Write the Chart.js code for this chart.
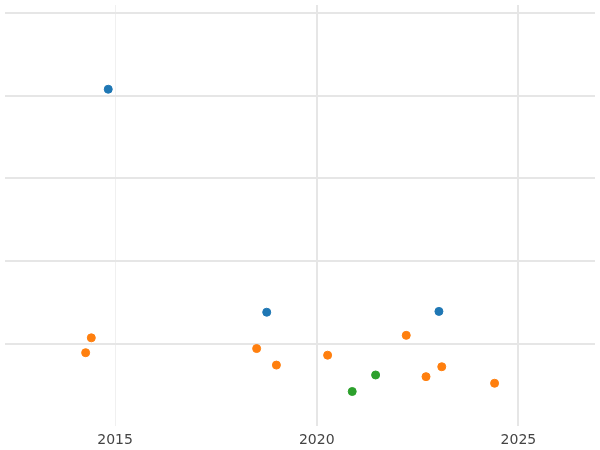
<!DOCTYPE html>
<html><head><meta charset="utf-8">
<script src="https://cdn.jsdelivr.net/npm/chart.js@4"></script>
<style>html,body{margin:0;padding:0;background:#fff}#w{width:600px;height:450px}</style>
</head><body><div id="w"><canvas id="c"></canvas></div>
<script>
const blueX=[2014.83,2018.76,2023.03];
const blueY=[4.08,1.38,1.39];
const orangeX=[2014.27,2014.41,2018.51,2019.0,2020.27,2022.22,2022.71,2023.1,2024.41];
const orangeY=[0.89,1.07,0.94,0.74,0.86,1.10,0.60,0.72,0.52];
const greenX=[2020.88,2021.46];
const greenY=[0.42,0.62];
const xTicks=[2015,2020,2025];
const pts=(xs,ys)=>xs.map((x,i)=>({x,y:ys[i]}));
const ds=(d,c)=>({data:d,backgroundColor:c,borderColor:c,pointRadius:4,pointHoverRadius:4,clip:false});
new Chart(document.getElementById('c'),{type:'scatter',
data:{datasets:[ds(pts(blueX,blueY),'#1f77b4'),ds(pts(orangeX,orangeY),'#ff7f0e'),ds(pts(greenX,greenY),'#2ca02c')]},
options:{responsive:true,maintainAspectRatio:false,animation:false,
plugins:{legend:{display:false},tooltip:{enabled:false}},
layout:{padding:{top:-5,left:-5,right:-5,bottom:-5}},
scales:{
x:{type:'linear',min:2012.27,max:2026.9,
afterBuildTicks:a=>{a.ticks=xTicks.map(v=>({value:v}));},
grid:{color:c=>c.tick&&c.tick.value===2015?'#f0f0f0':'#e6e6e6',lineWidth:c=>c.tick&&c.tick.value===2015?1:2,drawTicks:false},
border:{display:false},
ticks:{color:'#444',font:{family:'DejaVu Sans',size:14},padding:6,callback:v=>String(v)}},
y:{min:0,max:5.1,
afterBuildTicks:a=>{a.ticks=[1,2,3,4,5].map(v=>({value:v}));},
grid:{color:'#e6e6e6',lineWidth:2,drawTicks:false},border:{display:false},
ticks:{display:false}}
}}});
</script></body></html>
